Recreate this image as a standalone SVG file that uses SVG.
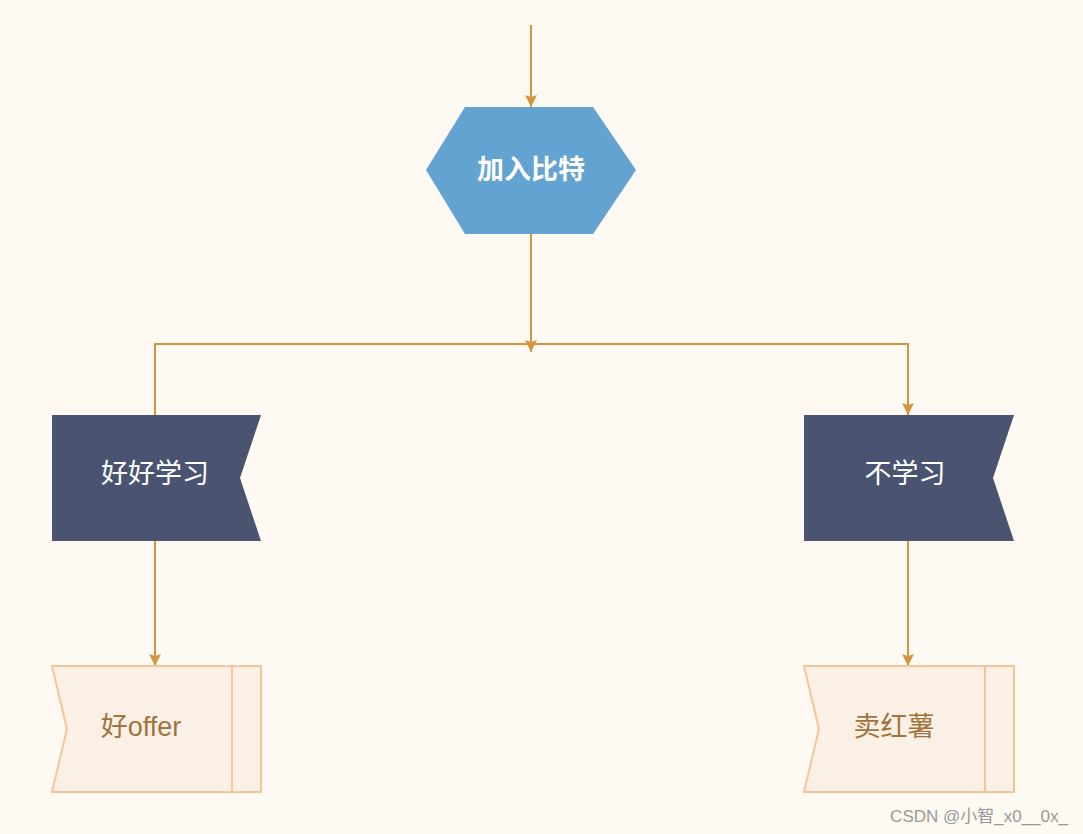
<svg xmlns="http://www.w3.org/2000/svg" width="1083" height="834" viewBox="0 0 1083 834">
<style>
.c{stroke:#d4953f;stroke-width:2;fill:none}
.t{font-family:"Liberation Sans","Noto Sans CJK SC",sans-serif;font-size:27px;text-anchor:middle;dominant-baseline:central}
.d{fill:#4a5470}
.o{fill:#fbf0e6;stroke:#f5c596;stroke-width:2}
</style>
<defs><marker id="a" markerWidth="14" markerHeight="12" refX="7" refY="12" orient="auto-start-reverse" markerUnits="userSpaceOnUse" viewBox="0 0 14 12"><path d="M0,0 L14,0 L7,12Z" fill="#d4953f" transform="rotate(-90 7 6)"/></marker>
<marker id="b" markerWidth="14" markerHeight="12" refX="12" refY="6" orient="auto" markerUnits="userSpaceOnUse" viewBox="0 0 14 12"><path d="M0,0 L12,6 L0,12 L2,6Z" fill="#d4953f"/></marker></defs>
<rect width="1083" height="834" fill="#fef9f2"/>
<g id="connectors">
<path class="c" d="M531,25 V107" marker-end="url(#b)"/>
<path class="c" d="M531,234 V352" marker-end="url(#b)"/>
<path class="c" d="M155,415 V344 H908 V415" marker-start="url(#b)" marker-end="url(#b)"/>
<path class="c" d="M155,541 V666" marker-end="url(#b)"/>
<path class="c" d="M908,541 V666" marker-end="url(#b)"/>
</g>
<g id="n1"><polygon points="465,107 593,107 636,170 593,234 465,234 426,170" fill="#62a3d1"/><text class="t" x="531" y="170" fill="#fff" font-weight="bold">加入比特</text></g>
<g id="n2"><polygon class="d" points="52,415 261,415 240,478 261,541 52,541"/><text class="t" x="155" y="474" fill="#fff">好好学习</text></g>
<g id="n3"><polygon class="d" points="804,415 1014,415 993,478 1014,541 804,541"/><text class="t" x="905" y="474" fill="#fff">不学习</text></g>
<g id="n4"><polygon class="o" points="52,666 261,666 261,792 52,792 67,729"/><line class="o" x1="232" y1="666" x2="232" y2="792"/><text class="t" x="141" y="727" fill="#a0743c">好offer</text></g>
<g id="n5"><polygon class="o" points="804,666 1014,666 1014,792 804,792 819,729"/><line class="o" x1="985" y1="666" x2="985" y2="792"/><text class="t" x="894" y="727" fill="#a0743c">卖红薯</text></g>
<text x="1068" y="822" font-family="Liberation Sans,Noto Sans CJK SC,sans-serif" font-size="17" fill="#999" text-anchor="end">CSDN @小智_x0__0x_</text>
</svg>
